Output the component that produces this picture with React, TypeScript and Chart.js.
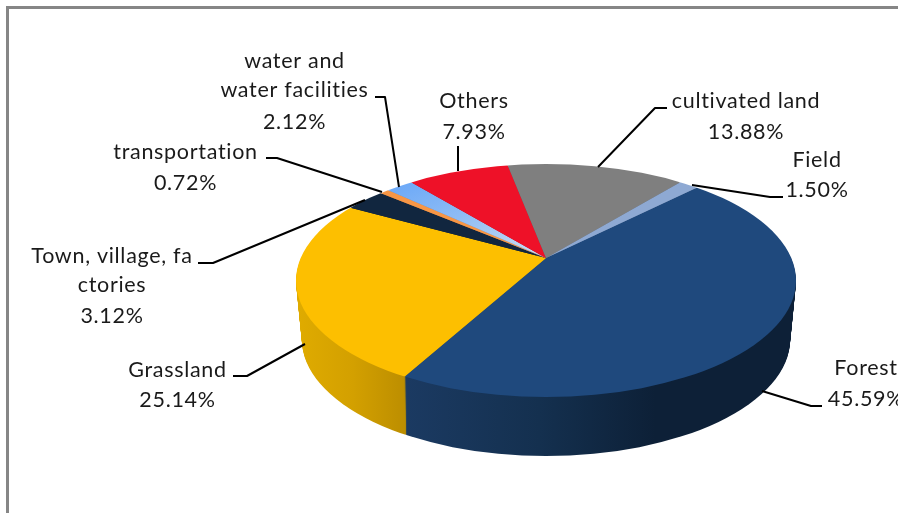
import React, { useEffect, useRef } from "react";
import { Chart, registerables } from "chart.js";

Chart.register(...registerables);

const categories = ["Forest", "Grassland", "Town, village, factories", "transportation", "water and water facilities", "Others", "cultivated land", "Field"];
const values = [45.59, 25.14, 3.12, 0.72, 2.12, 7.93, 13.88, 1.5];
const topColors = ["#1f497d", "#fdbf00", "#11263f", "#f79646", "#8db8f4", "#ee1128", "#7f7f7f", "#8ea9d3"];
const labelLines = [["Forest"], ["Grassland"], ["Town, village, fa", "ctories"], ["transportation"], ["water and", "water facilities"], ["Others"], ["cultivated land"], ["Field"]];

// label layout: centre x and baseline y of each line (last one is the percentage)
const labelX = [866, 177.5, 112, 185.5, 294.5, 474, 746, 817];
const labelY = [[375, 406], [377, 407], [263, 292, 323], [159, 190], [68, 97, 129], [108, 139], [108, 139], [167, 197]];
const leaders = [
  [[822, 406], [811, 406], [762, 391]],
  [[233, 376], [247, 376], [305, 344]],
  [[198, 263], [213, 263], [365, 200]],
  [[266, 158], [277, 158], [382, 192]],
  [[375, 97], [385, 97], [399, 187]],
  [[458, 146], [458, 171]],
  [[667, 108], [655, 108], [598, 167]],
  [[783, 197], [770, 197], [692, 185]],
];

const W = 898, H = 513;
const APEX_X = 546, APEX_Y = 258;
const ELL_CY = 280.5, ELL_RX = 250, ELL_RY = 116.5, DEPTH = 59;
const SPREAD = 1.32, SQUASH = 0.46;

const pie3d = {
  id: "pie3d",
  beforeDatasetsDraw(chart: any) {
    const ctx: CanvasRenderingContext2D = chart.ctx;
    const arcs = chart.getDatasetMeta(0).data;
    const cx = arcs[0].x, cy = arcs[0].y;
    const ux = (x: number) => cx + (x - APEX_X) / SPREAD;

    const lin = (x0: number, x1: number, stops: [number, string][]) => {
      const g = ctx.createLinearGradient(ux(x0), 0, ux(x1), 0);
      stops.forEach(([p, c]) => g.addColorStop(p, c));
      return g;
    };

    const project = (d: number, fills: any[], rx: number) => {
      ctx.save();
      ctx.beginPath();
      ctx.ellipse(APEX_X, ELL_CY + d, rx, ELL_RY, 0, 0, Math.PI * 2);
      ctx.clip();
      ctx.translate(APEX_X, APEX_Y + d);
      ctx.scale(SPREAD, SPREAD * SQUASH);
      ctx.translate(-cx, -cy);
      arcs.forEach((arc: any, i: number) => {
        const o = arc.options;
        arc.options = { ...o, backgroundColor: fills[i] };
        arc.draw(ctx);
        arc.options = o;
      });
      ctx.restore();
    };

    const wall = [
      lin(405, 790, [[0, "#1b3a62"], [0.35, "#14304f"], [0.65, "#0d2037"], [1, "#0d2037"]]),
      lin(298, 408, [[0, "#dfab00"], [0.5, "#d3a000"], [1, "#bb8d00"]]),
      "#0c1c30", "#b9702f", "#6a8ab7", "#b20d1e", "#5f5f5f", "#6a7f9e",
    ];
    for (let d = DEPTH; d >= 1; d--) project(d, wall, ELL_RX - 0.1 * d);

    const waterGrad = ctx.createLinearGradient(cx - 110, cy - 130, cx, cy);
    waterGrad.addColorStop(0, "#6aa8f8");
    waterGrad.addColorStop(0.45, "#8fbcf4");
    waterGrad.addColorStop(1, "#cfe0f4");
    const top = topColors.map((c, i) => (i === 4 ? waterGrad : c));
    project(0, top, ELL_RX);

    return false;
  },
  afterDraw(chart: any) {
    const ctx: CanvasRenderingContext2D = chart.ctx;
    ctx.save();
    // frame
    ctx.strokeStyle = "#868686";
    ctx.lineWidth = 3;
    ctx.beginPath();
    ctx.moveTo(7.5, H);
    ctx.lineTo(7.5, 7.5);
    ctx.lineTo(W, 7.5);
    ctx.stroke();
    // leader lines
    ctx.strokeStyle = "#000000";
    ctx.lineWidth = 2;
    ctx.lineJoin = "round";
    leaders.forEach((pts) => {
      ctx.beginPath();
      pts.forEach(([x, y], i) => (i ? ctx.lineTo(x, y) : ctx.moveTo(x, y)));
      ctx.stroke();
    });
    // labels
    ctx.fillStyle = "#1a1a1a";
    ctx.font = '21.5px Lato, "Open Sans", sans-serif';
    ctx.textAlign = "center";
    ctx.textBaseline = "alphabetic";
    (ctx as any).letterSpacing = "0.7px";
    labelLines.forEach((lines, i) => {
      const rows = [...lines, values[i].toFixed(2) + "%"];
      rows.forEach((t, j) => ctx.fillText(t, labelX[i], labelY[i][j]));
    });
    ctx.restore();
  },
};

export default function App() {
  const ref = useRef<HTMLCanvasElement>(null);
  useEffect(() => {
    const chart = new Chart(ref.current as HTMLCanvasElement, {
      type: "pie",
      data: {
        labels: categories,
        datasets: [{ data: values, backgroundColor: topColors, borderWidth: 0 }],
      },
      options: {
        responsive: false,
        animation: false,
        rotation: 44.6,
        layout: { padding: { left: APEX_X - 250, right: W - APEX_X - 250, top: APEX_Y - 250, bottom: H - APEX_Y - 250 } },
        plugins: { legend: { display: false }, tooltip: { enabled: false } },
      },
      plugins: [pie3d],
    } as any);
    return () => chart.destroy();
  }, []);
  return (
    <div style={{ position: "fixed", left: 0, top: 0, width: W, height: H, background: "#fff" }}>
      <canvas ref={ref} width={W} height={H} style={{ display: "block" }} />
    </div>
  );
}
